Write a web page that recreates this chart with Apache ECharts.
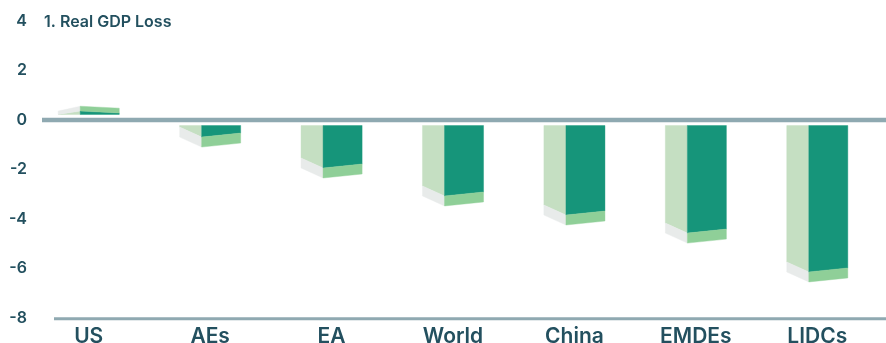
<!DOCTYPE html>
<html><head><meta charset="utf-8">
<script src="https://cdn.jsdelivr.net/npm/echarts@6/dist/echarts.min.js"></script>
<style>html,body{margin:0;padding:0;background:#fff}#c{width:886px;height:343px}</style>
</head><body><div id="c"></div>
<script>
// ---- data ----
const categories = ['US', 'AEs', 'EA', 'World', 'China', 'EMDEs', 'LIDCs'];
const gdpLoss = [0.36, -0.69, -1.94, -3.07, -3.84, -4.57, -6.14];
const yTicks = [-8, -6, -4, -2, 0, 2, 4];
const chartTitle = '1. Real GDP Loss';

// ---- styles ----
const TEXT = '#23505f';
const FONT = 'Inter, "Noto Sans", sans-serif';
const C_SIDE = '#c5dfc2', C_FRONT = '#16957a', C_SLAB = '#8fcf98', C_GRAY = '#e8ebea';
const AXIS_LINE = '#8fa9b1';

const chart = echarts.init(document.getElementById('c'), null, {renderer: 'canvas'});

function renderItem(params, api) {
  const i = api.value(0), v = api.value(1);
  const zero = api.coord([i, 0]);
  const p = api.coord([i, v]);
  const band = api.size([1, 0])[0];
  const c = zero[0];
  const dir = v < 0 ? 1 : -1;
  const base = zero[1] + dir * 5.5;
  const Y = p[1];
  const k = Math.min(1, Math.abs(Y - base) / 7);
  const L = c - band * 0.2515, M = c - band * 0.07, R = c + band * 0.2515;
  const cl = y => dir > 0 ? Math.max(y, base) : Math.min(y, base);
  const poly = (pts, fill) => ({
    type: 'polygon',
    shape: {points: pts.map(q => [q[0], cl(q[1])])},
    style: {fill: fill, stroke: fill, lineWidth: 0.4}
  });
  return {
    type: 'group',
    children: [
      poly([[L, base], [M, base], [M, Y], [L, Y - dir * 10 * k]], C_SIDE),
      poly([[L, Y - dir * 10 * k], [M, Y], [M, Y + dir * 10 * k], [L, Y]], C_GRAY),
      poly([[M, base], [R, base], [R, Y - dir * 4 * k], [M, Y]], C_FRONT),
      poly([[M, Y], [R, Y - dir * 4 * k], [R, Y + dir * 6 * k], [M, Y + dir * 10 * k]], C_SLAB)
    ]
  };
}

chart.setOption({
  animation: false,
  title: {
    text: chartTitle, left: 44, top: 14, padding: 0,
    textStyle: {fontFamily: FONT, fontSize: 16, fontWeight: 600, color: TEXT}
  },
  grid: {left: 28, right: 8, top: 21, bottom: 25, containLabel: false, outerBoundsMode: 'none'},
  xAxis: {
    type: 'category', data: categories,
    axisLine: {show: false, onZero: false}, axisTick: {show: false},
    axisLabel: {fontFamily: FONT, fontSize: 21, fontWeight: 600, color: TEXT, margin: 8}
  },
  yAxis: {
    type: 'value', min: yTicks[0], max: yTicks[yTicks.length - 1], interval: 2,
    axisLine: {show: false}, axisTick: {show: false}, splitLine: {show: false},
    axisLabel: {fontFamily: FONT, fontSize: 16, fontWeight: 600, color: TEXT, margin: 1}
  },
  series: [{
    type: 'custom', renderItem: renderItem,
    data: gdpLoss.map((v, i) => [i, v]),
    encode: {x: 0, y: 1}
  }]
});

const y0 = chart.convertToPixel({yAxisIndex: 0}, 0);
const yb = chart.convertToPixel({yAxisIndex: 0}, yTicks[0]);
chart.setOption({
  graphic: [
    {type: 'line', shape: {x1: 42, y1: y0, x2: 886, y2: y0}, style: {stroke: AXIS_LINE, lineWidth: 4.5}, z: 10},
    {type: 'line', shape: {x1: 54, y1: yb + 0.7, x2: 886, y2: yb + 0.7}, style: {stroke: AXIS_LINE, lineWidth: 3}, z: 10}
  ]
});
</script>
</body></html>
